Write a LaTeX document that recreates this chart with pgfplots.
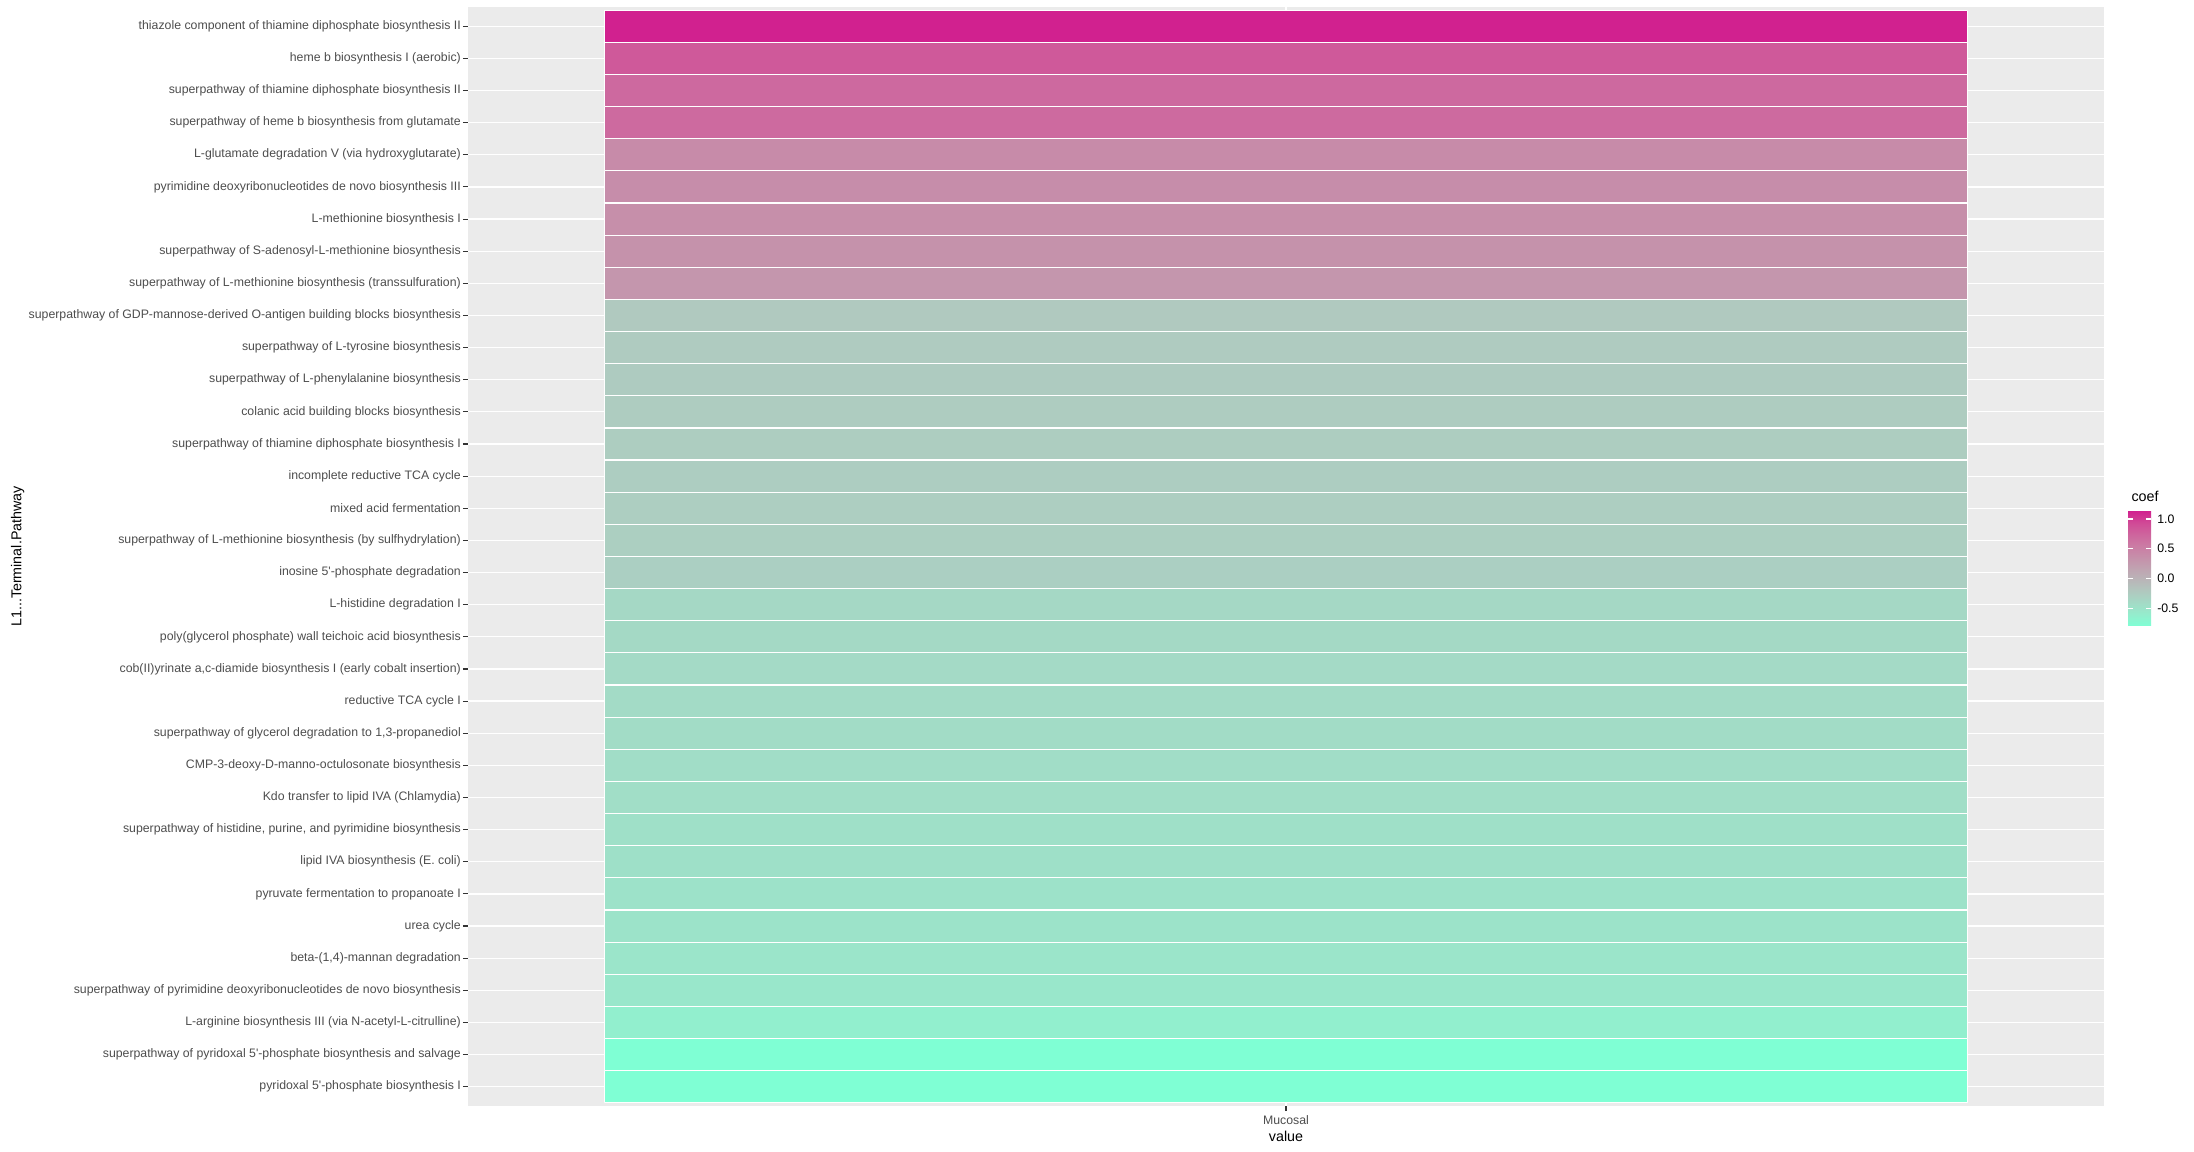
\documentclass[border=0pt]{standalone}
\usepackage{fontspec}
\setmainfont{Liberation Sans}
\usepackage{pgfplots}
\pgfplotsset{compat=1.18}
\usepgfplotslibrary{patchplots}
\definecolor{panelbg}{RGB}{235,235,235}
\definecolor{axtext}{RGB}{77,77,77}
\definecolor{tickc}{RGB}{51,51,51}
\newcommand\axfont{\fontsize{12.3}{14}\selectfont}
\newcommand\ttlfont{\fontsize{14.3}{16}\selectfont}
\newcommand\q{\textquotesingle}
\begin{document}
\begin{tikzpicture}
\useasboundingbox (-468pt,-45pt) rectangle (1726pt,1106pt);
\begin{axis}[
  at={(0pt,0pt)}, anchor=south west,
  scale only axis, width=1636pt, height=1099pt,
  xmin=0.4, xmax=1.6, ymin=0.4, ymax=34.6,
  axis background/.style={fill=panelbg},
  axis line style={draw=none},
  xtick={1}, xticklabels={Mucosal},
  ytick={1,...,34},
  yticklabels={
    pyridoxal 5\q-phosphate biosynthesis I,
    superpathway of pyridoxal 5\q-phosphate biosynthesis and salvage,
    L-arginine biosynthesis III (via N-acetyl-L-citrulline),
    superpathway of pyrimidine deoxyribonucleotides de novo biosynthesis,
    {beta-(1,4)-mannan degradation},
    urea cycle,
    pyruvate fermentation to propanoate I,
    lipid IVA biosynthesis (E. coli),
    {superpathway of histidine, purine, and pyrimidine biosynthesis},
    Kdo transfer to lipid IVA (Chlamydia),
    CMP-3-deoxy-D-manno-octulosonate biosynthesis,
    {superpathway of glycerol degradation to 1,3-propanediol},
    reductive TCA cycle I,
    {cob(II)yrinate a,c-diamide biosynthesis I (early cobalt insertion)},
    poly(glycerol phosphate) wall teichoic acid biosynthesis,
    L-histidine degradation I,
    inosine 5\q-phosphate degradation,
    superpathway of L-methionine biosynthesis (by sulfhydrylation),
    mixed acid fermentation,
    incomplete reductive TCA cycle,
    superpathway of thiamine diphosphate biosynthesis I,
    colanic acid building blocks biosynthesis,
    superpathway of L-phenylalanine biosynthesis,
    superpathway of L-tyrosine biosynthesis,
    superpathway of GDP-mannose-derived O-antigen building blocks biosynthesis,
    superpathway of L-methionine biosynthesis (transsulfuration),
    superpathway of S-adenosyl-L-methionine biosynthesis,
    L-methionine biosynthesis I,
    pyrimidine deoxyribonucleotides de novo biosynthesis III,
    L-glutamate degradation V (via hydroxyglutarate),
    superpathway of heme b biosynthesis from glutamate,
    superpathway of thiamine diphosphate biosynthesis II,
    heme b biosynthesis I (aerobic),
    thiazole component of thiamine diphosphate biosynthesis II},
  xtick pos=bottom, ytick pos=left,
  tick align=outside, major tick length=5pt,
  tick style={tickc, line width=1.1pt},
  yticklabel style={font=\axfont, text=axtext, inner sep=2pt},
  xticklabel style={font=\axfont, text=axtext, anchor=base, yshift=-13pt},
  ymajorgrids, xmajorgrids,
  grid style={white, line width=1.2pt},
  xlabel={value}, ylabel={L1...Terminal.Pathway},
  every axis x label/.style={at={(axis description cs:0.5,-0.03185)}, anchor=base, font=\ttlfont},
  every axis y label/.style={at={(axis description cs:-0.27525,0.5)}, rotate=90, anchor=center, font=\ttlfont},
  colormap={coefmap}{rgb255=(127,255,212) rgb255=(148,237,205) rgb255=(163,219,198) rgb255=(176,201,191) rgb255=(185,182,184) rgb255=(192,163,177) rgb255=(198,143,170) rgb255=(203,123,164) rgb255=(206,100,157) rgb255=(208,73,150) rgb255=(209,32,143)},
  point meta min=-0.80, point meta max=1.135,
  colorbar,
  colorbar/width=23pt,
  colorbar style={
    at={(parent axis.north east)}, anchor=north west, xshift=15.5pt, yshift=-504pt,
    scale only axis, width=23pt, height=115pt,
    axis line style={draw=none},
    ytick={-0.5,0,0.5,1}, yticklabels={-0.5,0.0,0.5,1.0},
    ytick pos=both, yticklabel pos=right,
    tick align=inside, major tick length=4.6pt,
    tick style={white, line width=1.2pt},
    yticklabel style={font=\axfont, text=black, inner sep=2pt, xshift=4pt},
    title={coef},
    every axis title/.style={at={(0,1)}, anchor=base west, yshift=9pt, font=\ttlfont},
  },
]
\addplot[patch, patch type=rectangle, shader=faceted, faceted color=white, line width=1.2pt, point meta=explicit]
table[x=x, y=y, meta=c] {
x y c
0.5 0.5 -0.800
1.5 0.5 -0.800
1.5 1.5 -0.800
0.5 1.5 -0.800
0.5 1.5 -0.800
1.5 1.5 -0.800
1.5 2.5 -0.800
0.5 2.5 -0.800
0.5 2.5 -0.626
1.5 2.5 -0.626
1.5 3.5 -0.626
0.5 3.5 -0.626
0.5 3.5 -0.539
1.5 3.5 -0.539
1.5 4.5 -0.539
0.5 4.5 -0.539
0.5 4.5 -0.520
1.5 4.5 -0.520
1.5 5.5 -0.520
0.5 5.5 -0.520
0.5 5.5 -0.501
1.5 5.5 -0.501
1.5 6.5 -0.501
0.5 6.5 -0.501
0.5 6.5 -0.491
1.5 6.5 -0.491
1.5 7.5 -0.491
0.5 7.5 -0.491
0.5 7.5 -0.472
1.5 7.5 -0.472
1.5 8.5 -0.472
0.5 8.5 -0.472
0.5 8.5 -0.462
1.5 8.5 -0.462
1.5 9.5 -0.462
0.5 9.5 -0.462
0.5 9.5 -0.443
1.5 9.5 -0.443
1.5 10.5 -0.443
0.5 10.5 -0.443
0.5 10.5 -0.433
1.5 10.5 -0.433
1.5 11.5 -0.433
0.5 11.5 -0.433
0.5 11.5 -0.424
1.5 11.5 -0.424
1.5 12.5 -0.424
0.5 12.5 -0.424
0.5 12.5 -0.414
1.5 12.5 -0.414
1.5 13.5 -0.414
0.5 13.5 -0.414
0.5 13.5 -0.404
1.5 13.5 -0.404
1.5 14.5 -0.404
0.5 14.5 -0.404
0.5 14.5 -0.395
1.5 14.5 -0.395
1.5 15.5 -0.395
0.5 15.5 -0.395
0.5 15.5 -0.385
1.5 15.5 -0.385
1.5 16.5 -0.385
0.5 16.5 -0.385
0.5 16.5 -0.289
1.5 16.5 -0.289
1.5 17.5 -0.289
0.5 17.5 -0.289
0.5 17.5 -0.279
1.5 17.5 -0.279
1.5 18.5 -0.279
0.5 18.5 -0.279
0.5 18.5 -0.269
1.5 18.5 -0.269
1.5 19.5 -0.269
0.5 19.5 -0.269
0.5 19.5 -0.263
1.5 19.5 -0.263
1.5 20.5 -0.263
0.5 20.5 -0.263
0.5 20.5 -0.260
1.5 20.5 -0.260
1.5 21.5 -0.260
0.5 21.5 -0.260
0.5 21.5 -0.250
1.5 21.5 -0.250
1.5 22.5 -0.250
0.5 22.5 -0.250
0.5 22.5 -0.244
1.5 22.5 -0.244
1.5 23.5 -0.244
0.5 23.5 -0.244
0.5 23.5 -0.240
1.5 23.5 -0.240
1.5 24.5 -0.240
0.5 24.5 -0.240
0.5 24.5 -0.221
1.5 24.5 -0.221
1.5 25.5 -0.221
0.5 25.5 -0.221
0.5 25.5 0.290
1.5 25.5 0.290
1.5 26.5 0.290
0.5 26.5 0.290
0.5 26.5 0.330
1.5 26.5 0.330
1.5 27.5 0.330
0.5 27.5 0.330
0.5 27.5 0.358
1.5 27.5 0.358
1.5 28.5 0.358
0.5 28.5 0.358
0.5 28.5 0.377
1.5 28.5 0.377
1.5 29.5 0.377
0.5 29.5 0.377
0.5 29.5 0.400
1.5 29.5 0.400
1.5 30.5 0.400
0.5 30.5 0.400
0.5 30.5 0.700
1.5 30.5 0.700
1.5 31.5 0.700
0.5 31.5 0.700
0.5 31.5 0.705
1.5 31.5 0.705
1.5 32.5 0.705
0.5 32.5 0.705
0.5 32.5 0.830
1.5 32.5 0.830
1.5 33.5 0.830
0.5 33.5 0.830
0.5 33.5 1.130
1.5 33.5 1.130
1.5 34.5 1.130
0.5 34.5 1.130
};
\end{axis}
\end{tikzpicture}
\end{document}
